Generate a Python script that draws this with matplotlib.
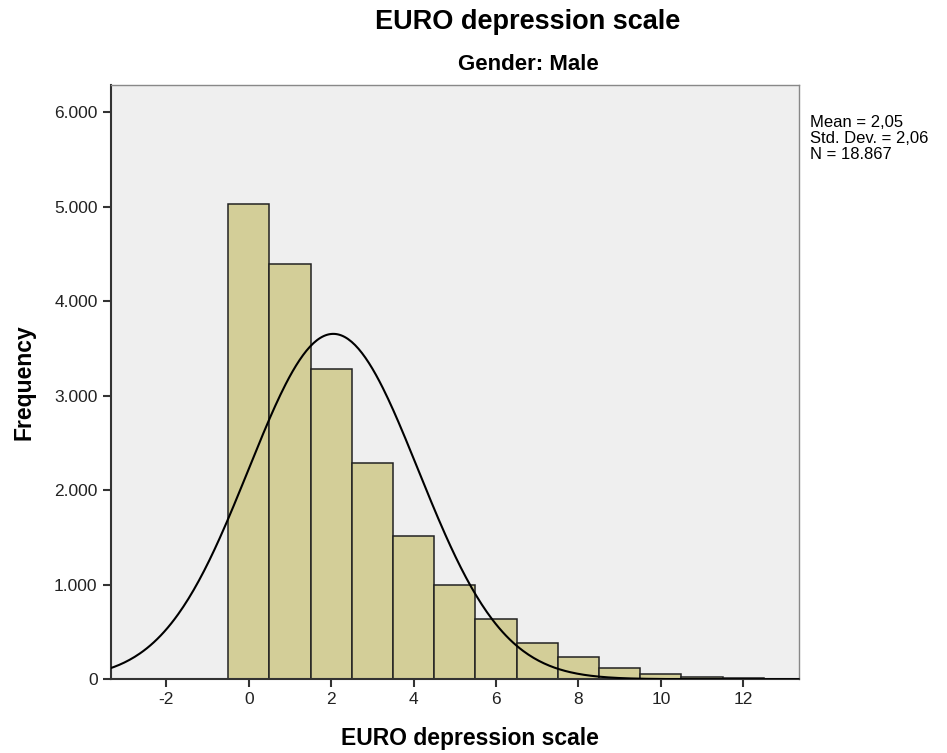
import numpy as np
import matplotlib.pyplot as plt
from matplotlib.ticker import FuncFormatter

plt.rcParams['font.family'] = ['Liberation Sans', 'DejaVu Sans']
plt.rcParams['axes.unicode_minus'] = False

# histogram bins (scores 0..12) and frequencies
scores = [0, 1, 2, 3, 4, 5, 6, 7, 8, 9, 10, 11, 12]
freq = [5026, 4392, 3280, 2286, 1513, 995, 635, 381, 233, 116, 53, 26, 16]
mean, sd, n = 2.05, 2.06, 18867
stats_lines = ['Mean = 2,05', 'Std. Dev. = 2,06', 'N = 18.867']

fig = plt.figure(figsize=(9.47, 7.53), dpi=100)
ax = fig.add_axes([0.117, 0.098, 0.727, 0.789])
ax.set_facecolor('#efefef')

ax.bar(scores, freq, width=1.0, color='#d3ce98', edgecolor='#222222', linewidth=1.1, zorder=2)

# normal curve scaled to counts
xs = np.linspace(-3.4, 13.4, 400)
ys = n * 1.0 / (sd * np.sqrt(2 * np.pi)) * np.exp(-0.5 * ((xs - mean) / sd) ** 2)
ax.plot(xs, ys, color='black', linewidth=1.5, zorder=3)

ax.set_xlim(-3.35, 13.36)
ax.set_ylim(0, 6286)
ax.set_xticks([-2, 0, 2, 4, 6, 8, 10, 12])
ax.set_yticks([0, 1000, 2000, 3000, 4000, 5000, 6000])
ax.yaxis.set_major_formatter(FuncFormatter(lambda v, p: '0' if v == 0 else f'{int(v):,}'.replace(',', '.')))
ax.tick_params(axis='both', labelsize=12.5, length=6, width=1.5, color='#333333', labelcolor='#222222')

for s in ['left', 'bottom']:
    ax.spines[s].set_linewidth(1.5)
    ax.spines[s].set_color('#333333')
for s in ['top', 'right']:
    ax.spines[s].set_linewidth(1.0)
    ax.spines[s].set_color('#888888')

ax.set_xlabel('EURO depression scale', fontsize=16.5, fontweight='bold')
ax.set_ylabel('Frequency', fontsize=16.5, fontweight='bold')
ax.xaxis.set_label_coords(0.522, -0.099)
ax.xaxis.label.set_va('center')
ax.yaxis.set_label_coords(-0.126, 0.5)
ax.yaxis.label.set_va('center')

fig.text(0.557, 0.971, 'EURO depression scale', ha='center', va='center', fontsize=19.5, fontweight='bold')
fig.text(0.558, 0.915, 'Gender: Male', ha='center', va='center', fontsize=16, fontweight='bold')
for i, line in enumerate(stats_lines):
    fig.text(0.855, 0.837 - i * 0.0213, line, ha='left', va='center', fontsize=12)

fig.savefig('out.png', dpi=100)
